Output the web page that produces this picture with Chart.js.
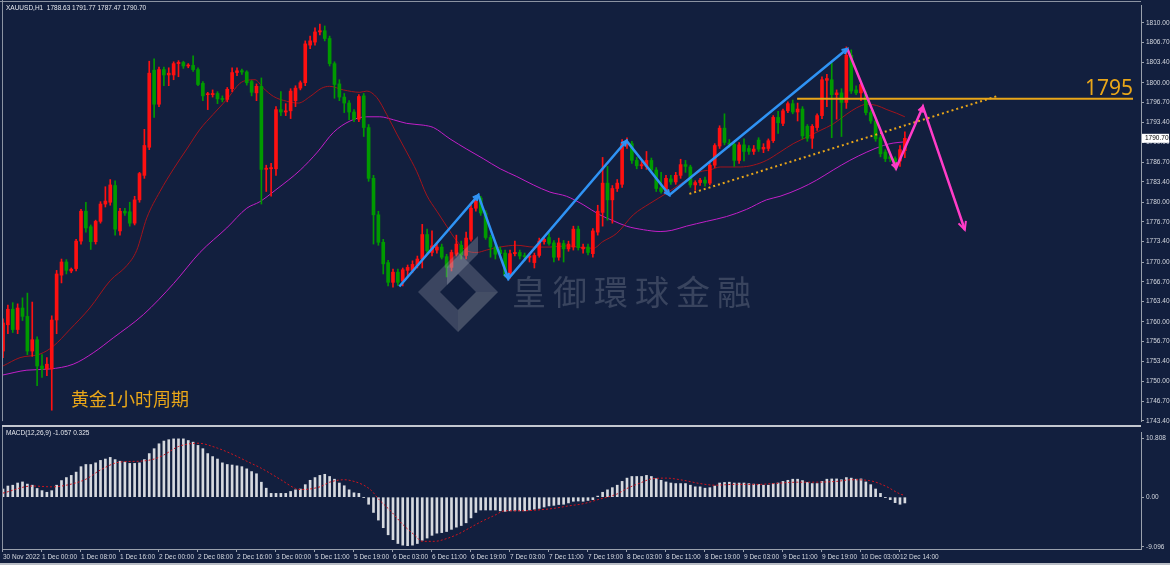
<!DOCTYPE html>
<html>
<head>
<meta charset="utf-8">
<script src="https://cdn.jsdelivr.net/npm/chart.js@4.4.0/dist/chart.umd.min.js"></script>
<style>
html, body { margin: 0; padding: 0; background: #121f3e; }
#wrap { position: relative; width: 1170px; height: 565px; overflow: hidden; background: #121f3e; }
#main { position: absolute; left: 0; top: 0; }
#macd { position: absolute; left: 0; top: 427px; }
</style>
</head>
<body>
<div id="wrap">
  <canvas id="main" width="1170" height="427"></canvas>
  <canvas id="macd" width="1170" height="138"></canvas>
</div>
<script>
// XAUUSD H1 candles (bar 0 = 30 Nov 16:00)
const opens = [
  1755.1,1759.5,1762.1,1758.7,1762.3,1760.9,1755.1,1757.0,1752.6,1752.1,
  1752.1,1760.3,1767.8,1770.0,1768.5,1768.9,1773.5,1778.5,1775.9,1773.4,
  1776.8,1779.7,1780.0,1782.8,1775.2,1778.5,1778.4,1776.5,1780.4,1784.5,
  1789.2,1802.1,1796.4,1802.2,1801.3,1801.3,1803.2,1803.4,1802.8,1802.9,
  1802.2,1799.9,1798.0,1798.0,1798.2,1797.3,1797.2,1799.0,1801.7,1802.0,
  1801.8,1800.2,1798.3,1799.4,1785.5,1785.6,1785.6,1795.5,1795.1,1795.3,
  1797.0,1799.1,1800.0,1806.3,1806.8,1808.5,1808.7,1807.4,1803.2,1799.8,
  1797.6,1796.6,1795.1,1793.9,1797.8,1792.5,1784.0,1777.9,1773.3,1769.9,
  1766.6,1768.3,1766.8,1768.6,1768.6,1769.4,1770.5,1774.6,1771.6,1772.0,
  1772.5,1770.9,1769.1,1771.3,1772.8,1771.1,1773.8,1779.0,1780.7,1778.2,
  1774.1,1772.5,1772.0,1771.5,1767.8,1771.4,1771.6,1771.0,1770.8,1769.9,
  1771.1,1773.4,1774.1,1773.2,1770.8,1773.1,1772.2,1772.5,1775.5,1772.2,
  1772.5,1771.4,1775.0,1778.3,1783.2,1780.4,1782.3,1783.0,1789.6,1789.8,
  1787.0,1786.1,1786.0,1787.0,1785.4,1782.4,1781.8,1783.9,1783.4,1784.5,
  1786.3,1785.9,1782.9,1783.3,1783.7,1783.2,1786.2,1789.4,1792.4,1789.9,
  1789.7,1787.0,1789.6,1789.0,1788.5,1790.4,1788.9,1789.0,1790.3,1794.2,
  1793.2,1795.3,1796.5,1795.1,1795.6,1792.7,1790.7,1792.5,1794.5,1800.4,
  1800.5,1798.0,1798.3,1796.7,1804.6,1798.8,1798.3,1798.0,1795.0,1793.6,
  1790.8,1788.4,1787.6,1787.3,1786.9,1788.63
];
const highs = [
  1760.5,1762.8,1763.2,1763.0,1764.0,1764.8,1763.3,1757.5,1754.5,1754.0,
  1761.0,1768.6,1770.5,1770.4,1769.0,1773.8,1778.8,1780.0,1776.2,1777.0,
  1780.1,1782.6,1783.8,1783.6,1779.0,1779.0,1780.0,1781.0,1785.0,1792.2,
  1803.6,1804.0,1802.6,1802.6,1802.5,1803.5,1803.7,1803.6,1803.2,1804.5,
  1802.5,1800.2,1798.4,1798.8,1798.5,1797.8,1799.2,1802.5,1802.5,1802.3,
  1802.0,1800.4,1799.8,1800.8,1786.2,1786.5,1796.0,1798.5,1796.5,1799.0,
  1799.5,1800.3,1807.0,1807.8,1809.2,1809.8,1809.5,1807.8,1803.5,1800.5,
  1798.2,1797.0,1795.5,1798.0,1798.2,1793.0,1784.5,1778.5,1773.8,1770.3,
  1768.8,1768.8,1769.0,1769.5,1770.2,1771.0,1776.3,1775.5,1775.2,1773.0,
  1773.0,1771.3,1772.0,1774.5,1773.5,1775.0,1779.5,1781.1,1781.0,1778.6,
  1774.5,1773.0,1772.5,1772.0,1772.0,1773.5,1772.0,1771.5,1771.5,1771.5,
  1774.0,1774.2,1774.8,1773.6,1774.0,1773.6,1773.5,1776.0,1776.0,1773.0,
  1773.0,1775.6,1779.5,1787.5,1786.0,1782.8,1783.8,1790.5,1790.8,1790.2,
  1787.5,1786.8,1788.5,1787.4,1785.8,1785.0,1784.5,1784.5,1785.0,1787.2,
  1787.0,1786.2,1783.6,1784.0,1784.2,1786.5,1789.8,1792.8,1794.8,1790.5,
  1790.2,1790.0,1790.6,1789.5,1789.5,1790.8,1789.8,1790.6,1794.5,1795.2,
  1795.6,1796.8,1797.1,1796.6,1796.0,1793.0,1793.0,1794.8,1801.0,1801.4,
  1803.3,1798.8,1799.0,1806.0,1805.5,1799.5,1800.0,1798.5,1795.4,1794.0,
  1791.2,1788.8,1788.0,1787.6,1789.5,1791.77
];
const lows = [
  1754.0,1758.0,1758.2,1758.0,1760.2,1754.5,1754.2,1749.3,1750.7,1751.0,
  1745.2,1758.0,1766.5,1768.0,1768.2,1768.5,1773.0,1775.0,1772.1,1773.0,
  1776.5,1779.2,1779.5,1774.5,1774.5,1777.8,1776.0,1776.2,1780.0,1784.0,
  1788.8,1794.2,1796.0,1799.5,1799.5,1800.5,1801.0,1802.4,1802.5,1801.9,
  1799.5,1797.0,1795.5,1797.6,1796.5,1796.8,1796.8,1798.5,1801.2,1801.4,
  1799.6,1797.8,1797.0,1779.7,1781.8,1781.0,1784.5,1794.5,1794.5,1794.0,
  1796.0,1798.8,1799.5,1805.7,1806.3,1808.0,1807.0,1802.8,1797.4,1797.0,
  1795.0,1793.8,1793.5,1793.5,1791.0,1783.5,1773.0,1772.8,1768.0,1766.0,
  1765.8,1766.1,1766.0,1767.5,1768.2,1769.0,1769.0,1771.5,1771.0,1771.5,
  1770.5,1767.5,1768.5,1771.0,1770.5,1770.5,1773.5,1778.5,1777.8,1773.8,
  1770.8,1770.5,1770.8,1767.5,1767.3,1771.0,1770.5,1770.2,1770.0,1769.0,
  1770.8,1773.0,1772.8,1770.0,1770.3,1770.0,1771.8,1772.0,1772.0,1771.5,
  1771.2,1770.8,1774.5,1776.0,1777.0,1776.5,1781.8,1782.5,1789.0,1786.5,
  1785.6,1785.6,1785.5,1785.0,1781.8,1781.5,1781.5,1783.0,1783.0,1784.0,
  1785.0,1782.5,1782.0,1782.8,1782.7,1782.9,1785.8,1789.0,1789.6,1789.2,
  1786.0,1786.5,1786.9,1788.0,1788.0,1788.5,1788.3,1788.6,1790.0,1791.5,
  1792.8,1795.0,1794.8,1793.6,1790.6,1790.2,1789.0,1792.0,1794.0,1796.0,
  1790.8,1793.9,1791.0,1795.7,1798.2,1798.0,1797.0,1794.6,1793.2,1790.2,
  1787.6,1786.8,1786.8,1785.5,1786.0,1787.47
];
const closes = [
  1759.8,1762.1,1758.7,1762.3,1760.9,1755.1,1757.0,1752.6,1752.1,1752.9,
  1760.3,1768.0,1770.0,1768.6,1768.8,1773.5,1778.5,1775.7,1773.4,1776.8,
  1779.7,1780.2,1782.9,1775.5,1778.5,1778.2,1776.5,1780.4,1784.8,1789.5,
  1801.6,1796.4,1802.2,1801.3,1801.6,1803.2,1803.4,1802.8,1802.9,1802.2,
  1799.7,1797.8,1798.1,1798.2,1797.3,1797.2,1798.9,1801.7,1802.0,1801.8,
  1800.0,1798.4,1799.4,1785.5,1785.7,1785.8,1795.5,1795.1,1795.3,1798.6,
  1799.1,1800.0,1806.5,1807.0,1808.5,1808.7,1807.4,1803.2,1799.7,1797.6,
  1796.6,1795.1,1793.9,1797.7,1792.5,1784.0,1777.9,1773.3,1769.7,1766.6,
  1768.3,1766.6,1768.7,1769.1,1769.6,1770.5,1774.6,1771.9,1772.7,1772.5,
  1770.8,1769.1,1771.6,1773.0,1771.2,1774.0,1779.0,1780.7,1778.2,1774.1,
  1772.5,1771.3,1771.4,1767.8,1771.4,1771.6,1771.0,1770.9,1771.0,1771.1,
  1773.5,1773.8,1773.1,1770.8,1773.2,1772.2,1773.0,1775.5,1772.4,1772.5,
  1771.6,1775.2,1778.5,1783.2,1780.4,1782.3,1783.2,1789.8,1790.0,1787.0,
  1786.1,1786.3,1787.0,1785.4,1782.3,1781.8,1784.0,1783.4,1784.5,1786.3,
  1786.0,1782.9,1783.3,1783.7,1783.2,1786.2,1789.5,1792.4,1790.0,1789.7,
  1787.0,1789.6,1788.5,1788.5,1788.9,1788.9,1789.2,1790.3,1794.2,1793.3,
  1795.3,1796.5,1795.1,1795.6,1791.1,1790.7,1792.7,1794.5,1800.5,1800.7,
  1798.0,1798.3,1796.7,1804.6,1798.6,1798.3,1799.7,1795.0,1793.6,1790.6,
  1788.1,1787.3,1787.3,1786.2,1788.8,1790.70
];

// moving averages, read at sample points [bar, price]
const maRed = [
  [0,1752.6],[3.5,1754.0],[7.6,1754.6],[10.3,1755.9],[13.7,1758.7],[17.8,1762.3],[22,1766.9],
  [25.4,1769.4],[27.4,1771.9],[29.5,1777.4],[32.2,1781.8],[35,1785.6],[37.7,1788.9],[40.4,1792.2],
  [43.1,1794.7],[45.9,1797.2],[48.6,1799.9],[50,1800.4],[51.7,1800.5],[53.4,1799.1],[55.5,1797.7],
  [58.2,1796.9],[60.6,1796.6],[63,1797.7],[65.4,1799.1],[67,1799.4],[69.8,1798.8],[73.2,1798.4],
  [74.6,1798.6],[76.7,1797.5],[78.7,1794.7],[80.8,1791.4],[82.8,1788.4],[84.9,1785.1],[86.9,1781.2],
  [89,1778.5],[91,1776.0],[93,1773.6],[95.1,1771.9],[97.2,1771.6],[99.2,1772.0],[101.9,1772.5],
  [105.4,1772.8],[108.8,1772.5],[112.2,1772.5],[115.6,1772.7],[119,1772.4],[121.1,1772.3],
  [123,1773.4],[125.9,1774.8],[129.3,1777.9],[132.7,1779.8],[136.1,1781.5],[139.6,1783.4],
  [143,1785.1],[145,1785.4],[147.1,1785.9],[151.2,1785.9],[153.9,1786.2],[156.6,1787.0],
  [159.4,1788.4],[162.1,1789.8],[164.9,1790.9],[167.6,1792.0],[170.3,1793.1],[173,1794.7],
  [175.1,1795.8],[177.2,1796.4],[179.2,1796.2],[181.3,1795.5],[183.3,1794.9],[185,1794.3]
];
const maMagenta = [
  [0,1751.1],[4.9,1751.9],[9.6,1752.1],[14.4,1752.9],[18.5,1754.8],[22.6,1757.3],[28.8,1761.2],
  [35,1766.4],[40.4,1771.6],[45.9,1775.7],[50,1779.0],[52.7,1780.1],[56,1782.1],[61,1785.4],
  [64.5,1788.4],[67.8,1791.7],[71.2,1793.6],[74.6,1794.3],[77.3,1794.3],[80.1,1793.8],[82.8,1793.2],
  [86.2,1792.9],[88.3,1792.5],[91.7,1790.6],[95.1,1788.9],[98.5,1787.3],[102,1785.6],[105.4,1784.3],
  [108.8,1782.9],[112.2,1781.7],[115.6,1781.0],[119,1779.6],[122.4,1777.9],[125.2,1776.9],
  [127.9,1776.0],[131.4,1775.4],[134.8,1775.1],[137.2,1775.3],[140.2,1776.0],[144.3,1776.8],
  [148.4,1777.6],[152.5,1778.8],[156.6,1780.4],[159.4,1781.0],[163.5,1782.3],[166.9,1783.7],
  [170.3,1785.4],[173.7,1787.0],[177.2,1788.4],[180.6,1789.5],[182.6,1789.9],[185,1790.1]
];

// hand-drawn analysis lines [bar, price]
const zigBlue = [[81.3,1765.9],[97.5,1781.2],[103.65,1767.2],[127.9,1790.3],[136.7,1781.2],[173.2,1805.7]];
const zigPink = [[173.2,1805.7],[183.2,1785.7],[188.7,1796.0],[197.3,1775.4]];
const level1795 = [[162.9,1797.3],[231.8,1797.3]];
const trendDotted = [[140.8,1781.4],[204.1,1797.8]];

// MACD(12,26,9)
const macdHist = [
  1.5,2.05,2.2,2.6,2.8,2.4,2.2,1.6,1.2,0.9,
  1.2,2.2,3.05,3.6,4.0,4.6,5.6,6.0,6.0,6.3,
  6.75,7.0,7.3,6.9,6.6,6.45,6.2,6.2,6.3,6.9,
  8.0,8.9,9.8,10.3,10.55,10.7,10.7,10.7,10.4,10.1,
  9.5,8.9,8.0,7.45,7.0,6.3,6.0,5.9,5.75,5.6,
  5.2,4.7,4.3,2.75,1.65,0.7,0.7,0.7,0.7,1.05,
  1.35,1.5,2.3,3.1,3.6,4.0,4.2,3.8,3.3,2.6,
  2.1,1.35,0.8,0.7,-0.05,-1.3,-2.8,-4.2,-5.6,-6.9,
  -7.8,-8.5,-8.8,-8.9,-8.8,-8.5,-7.9,-7.5,-7.0,-6.6,
  -6.5,-6.3,-5.9,-5.5,-5.2,-4.7,-3.8,-2.8,-2.35,-2.35,
  -2.35,-2.35,-2.5,-2.6,-2.5,-2.5,-2.5,-2.5,-2.35,-2.2,
  -2.05,-1.8,-1.6,-1.5,-1.35,-1.3,-1.05,-0.75,-0.7,-0.75,
  -0.6,-0.45,0.2,0.9,1.35,1.75,2.2,2.9,3.5,3.8,
  3.8,3.8,4.0,3.8,3.4,3.1,2.8,2.6,2.5,2.5,
  2.5,2.2,1.9,1.9,1.65,1.75,2.05,2.6,2.7,2.75,
  2.6,2.6,2.6,2.5,2.4,2.35,2.2,2.2,2.5,2.6,
  2.9,3.1,3.3,3.3,3.05,2.7,2.5,2.5,2.9,3.3,
  3.35,3.35,3.2,3.6,3.5,3.3,3.35,2.8,2.3,1.5,
  0.7,-0.05,-0.45,-1.0,-1.3,-1.057
];
const macdSignal = [
  [0,0.75],[6,2.05],[10,1.9],[13,2.2],[17,3.3],[20,5.0],[24,6.45],[28,6.6],[31,7.0],[33,7.75],
  [36,9.3],[40,9.9],[44,9.0],[47,7.9],[50,6.6],[53,5.3],[57,3.2],[60,1.6],[61,1.4],[65,1.9],
  [67,2.75],[70,3.2],[72,2.9],[74,2.2],[75.6,1.2],[77,-0.3],[79.6,-2.6],[82,-5.0],[84.5,-7.0],
  [86,-8.1],[88.5,-8.1],[91,-7.6],[93.4,-6.75],[95.8,-5.6],[98.3,-4.4],[100.7,-3.4],[103,-2.5],
  [106.4,-2.5],[109.6,-2.35],[113,-2.05],[116,-1.6],[119,-1.2],[122.6,-0.3],[126,0.6],[128,1.6],
  [130.7,2.6],[133,3.35],[136,3.5],[139.6,3.1],[143,2.5],[146,2.2],[150,2.35],[155,2.35],
  [158,2.5],[163,2.75],[166,2.75],[171,2.9],[174,3.2],[177.7,3.05],[181,2.05],[184,0.6],[185,0.325]
];

const priceTicks = [1810.00,1806.70,1803.40,1800.00,1796.70,1793.40,1790.00,1786.70,1783.40,1780.00,
  1776.70,1773.40,1770.00,1766.70,1763.40,1760.00,1756.70,1753.40,1750.00,1746.70,1743.40];
const macdTicks = [10.808, 0, -9.096];
const timeTickIdx = [0,8,16,24,32,40,48,56,64,72,80,88,96,104,112,120,128,136,144,152,160,168,176,184];
const timeTickLabels = ['30 Nov 2022','1 Dec 00:00','1 Dec 08:00','1 Dec 16:00','2 Dec 00:00','2 Dec 08:00',
  '2 Dec 16:00','3 Dec 00:00','5 Dec 11:00','5 Dec 19:00','6 Dec 03:00','6 Dec 11:00','6 Dec 19:00',
  '7 Dec 03:00','7 Dec 11:00','7 Dec 19:00','8 Dec 03:00','8 Dec 11:00','8 Dec 19:00','9 Dec 03:00',
  '9 Dec 11:00','9 Dec 19:00','10 Dec 03:00','12 Dec 14:00'];

Chart.defaults.font.family = "'Liberation Sans', 'DejaVu Sans', sans-serif";
Chart.defaults.color = '#d4d8e0';

const BULL = '#ff1010', BEAR = '#009a00';
const AXIS = '#9aa1ad';
const ORANGE = '#e9a619';
const candleColors = closes.map((c, i) => c >= opens[i] ? BULL : BEAR);
const pts = a => a.map(p => ({x: p[0], y: p[1]}));

// x mapping shared by both panes: bar i sits at 3 + 4.875 * i px
const X_MIN = -0.205, X_MAX = 233.44;

function arrowHead(ctx, x0, y0, x1, y1, size, color) {
  const a = Math.atan2(y1 - y0, x1 - x0);
  ctx.save();
  ctx.strokeStyle = color;
  ctx.lineWidth = 2;
  ctx.beginPath();
  ctx.moveTo(x1 - size * Math.cos(a - 0.45), y1 - size * Math.sin(a - 0.45));
  ctx.lineTo(x1, y1);
  ctx.lineTo(x1 - size * Math.cos(a + 0.45), y1 - size * Math.sin(a + 0.45));
  ctx.stroke();
  ctx.restore();
}

const mainOverlay = {
  id: 'mainOverlay',
  afterDatasetsDraw(chart) {
    const ctx = chart.ctx, xs = chart.scales.x, ys = chart.scales.y;
    // arrow heads on the zigzags
    const heads = (arr, color, lastSize) => {
      for (let i = 1; i < arr.length; i++) {
        const x0 = xs.getPixelForValue(arr[i-1][0]), y0 = ys.getPixelForValue(arr[i-1][1]);
        const x1 = xs.getPixelForValue(arr[i][0]), y1 = ys.getPixelForValue(arr[i][1]);
        arrowHead(ctx, x0, y0, x1, y1, i === arr.length - 1 ? lastSize : 6, color);
      }
    };
    heads(zigBlue, '#2f93f5', 6);
    heads(zigPink, '#ff3cc8', 9);

    // watermark logo + name
    ctx.save();
    ctx.globalAlpha = 0.3;
    ctx.fillStyle = '#9aa0b0';
    ctx.beginPath();
    ctx.moveTo(418, 292); ctx.lineTo(458, 252); ctx.lineTo(498, 292); ctx.lineTo(458, 332); ctx.closePath();
    ctx.moveTo(440, 292); ctx.lineTo(458, 310); ctx.lineTo(476, 292); ctx.lineTo(458, 274); ctx.closePath();
    ctx.fill('evenodd');
    ctx.fillStyle = '#5c6272';
    ctx.beginPath();
    ctx.moveTo(458, 332); ctx.lineTo(498, 292); ctx.lineTo(476, 292); ctx.lineTo(458, 310); ctx.closePath();
    ctx.fill();
    ctx.fillStyle = '#b0b4c0';
    ctx.beginPath();
    ctx.moveTo(447, 285); ctx.lineTo(478, 254); ctx.lineTo(478, 236); ctx.lineTo(447, 267); ctx.closePath();
    ctx.fill();
    ctx.globalAlpha = 0.38;
    ctx.fillStyle = '#7a8092';
    ctx.font = "34px 'Noto Sans CJK TC'";
    ctx.textBaseline = 'middle';
    ctx.textAlign = 'left';
    '皇御環球金融'.split('').forEach((ch, i) => ctx.fillText(ch, 512 + i * 41, 292));
    ctx.restore();
  },
  afterDraw(chart) {
    const ctx = chart.ctx, ys = chart.scales.y, area = chart.chartArea;
    ctx.save();
    // frame lines
    ctx.fillStyle = '#8b93a2';
    ctx.fillRect(0, 1, area.right, 1);
    ctx.fillRect(2, 0, 1, area.bottom);
    ctx.fillStyle = '#c3c7cf';
    ctx.fillRect(2, 425, area.right - 2, 2);

    // header
    ctx.fillStyle = '#e6e8ee';
    ctx.font = "6.5px 'Liberation Sans'";
    ctx.textBaseline = 'middle';
    ctx.fillText('XAUUSD,H1  1788.63 1791.77 1787.47 1790.70', 6, 8);

    // captions
    ctx.fillStyle = ORANGE;
    ctx.font = "18px 'Noto Sans CJK SC'";
    ctx.fillText('黄金1小时周期', 71, 399);
    ctx.font = "21px 'Noto Sans', 'Liberation Sans'";
    ctx.textBaseline = 'alphabetic';
    ctx.fillText('1795', 1085, 95);

    // current price box
    const last = closes[closes.length - 1];
    const py = ys.getPixelForValue(last);
    ctx.fillStyle = '#ffffff';
    ctx.fillRect(area.right + 1, py - 4.5, 27, 9);
    ctx.fillStyle = '#000000';
    ctx.font = "6.5px 'Liberation Sans'";
    ctx.textBaseline = 'middle';
    ctx.fillText(last.toFixed(2), area.right + 4, py);
    ctx.restore();
  }
};

new Chart(document.getElementById('main'), {
  type: 'bar',
  data: {
    datasets: [
      {
        type: 'line', data: pts(maMagenta), borderColor: '#c21fc8', borderWidth: 1,
        pointRadius: 0, cubicInterpolationMode: 'monotone', order: 5
      },
      {
        type: 'line', data: pts(maRed), borderColor: '#a3141c', borderWidth: 1,
        pointRadius: 0, cubicInterpolationMode: 'monotone', order: 4
      },
      {
        data: closes.map((c, i) => ({x: i, y: [lows[i], highs[i]]})),
        backgroundColor: candleColors, barThickness: 1, grouped: false, order: 3
      },
      {
        data: closes.map((c, i) => ({x: i, y: [opens[i], c]})),
        backgroundColor: candleColors, barThickness: 3, minBarLength: 1, grouped: false, order: 2
      },
      {
        type: 'line', data: pts(trendDotted), borderColor: ORANGE, borderWidth: 2,
        borderDash: [2, 3], pointRadius: 0, order: 1
      },
      {
        type: 'line', data: pts(level1795), borderColor: ORANGE, borderWidth: 2, pointRadius: 0, order: 1
      },
      {
        type: 'line', data: pts(zigBlue), borderColor: '#2f93f5', borderWidth: 2.5, pointRadius: 0, order: 0
      },
      {
        type: 'line', data: pts(zigPink), borderColor: '#ff3cc8', borderWidth: 2.5, pointRadius: 0, order: 0
      }
    ]
  },
  options: {
    responsive: false,
    devicePixelRatio: 1,
    animation: false,
    events: [],
    layout: { padding: { left: 2, top: 5, right: 0, bottom: 1 }, autoPadding: false },
    plugins: { legend: { display: false }, tooltip: { enabled: false } },
    scales: {
      x: { type: 'linear', min: X_MIN, max: X_MAX, offset: false, display: false },
      y: {
        position: 'right',
        min: 1743.38, max: 1812.855,
        afterBuildTicks: s => { s.ticks = priceTicks.map(v => ({value: v})); },
        afterFit: s => { s.width = 29; },
        ticks: {
          padding: 2,
          font: { size: 6.5 },
          color: '#d4d8e0',
          callback: v => Number(v).toFixed(2)
        },
        grid: { drawOnChartArea: false, drawTicks: true, tickLength: 3, color: AXIS },
        border: { display: true, color: AXIS }
      }
    }
  },
  plugins: [mainOverlay]
});

const macdOverlay = {
  id: 'macdOverlay',
  afterDraw(chart) {
    const ctx = chart.ctx, area = chart.chartArea;
    ctx.save();
    ctx.fillStyle = '#8b93a2';
    ctx.fillRect(2, 0, 1, area.bottom);
    ctx.fillStyle = '#b9bdc5';
    ctx.fillRect(0, 136, 1170, 2);
    ctx.fillStyle = '#e6e8ee';
    ctx.font = "6.5px 'Liberation Sans'";
    ctx.textBaseline = 'middle';
    ctx.fillText('MACD(12,26,9) -1.057 0.325', 6, 6);
    ctx.restore();
  }
};

new Chart(document.getElementById('macd'), {
  type: 'bar',
  data: {
    datasets: [
      {
        type: 'line', data: pts(macdSignal), borderColor: '#d0141e', borderWidth: 1,
        borderDash: [2, 2], pointRadius: 0, cubicInterpolationMode: 'monotone', order: 0
      },
      {
        data: macdHist.map((v, i) => ({x: i, y: v})),
        backgroundColor: '#d6d9df', barThickness: 2, order: 1
      }
    ]
  },
  options: {
    responsive: false,
    devicePixelRatio: 1,
    animation: false,
    events: [],
    layout: { padding: { left: 2, top: 1, right: 0, bottom: 2 }, autoPadding: false },
    plugins: { legend: { display: false }, tooltip: { enabled: false } },
    scales: {
      x: {
        type: 'linear', min: X_MIN, max: X_MAX, offset: false,
        afterBuildTicks: s => { s.ticks = timeTickIdx.map(v => ({value: v})); },
        afterFit: s => { s.height = 14; },
        ticks: {
          autoSkip: false, maxRotation: 0, minRotation: 0, align: 'start', padding: 1,
          font: { size: 6.5 }, color: '#d4d8e0',
          callback: (v, i) => timeTickLabels[i]
        },
        grid: { offset: false, drawOnChartArea: false, drawTicks: true, tickLength: 3, color: AXIS },
        border: { display: true, color: AXIS }
      },
      y: {
        position: 'right',
        min: -9.507, max: 11.796,
        afterBuildTicks: s => { s.ticks = macdTicks.map(v => ({value: v})); },
        afterFit: s => { s.width = 29; },
        ticks: {
          padding: 2, font: { size: 6.5 }, color: '#d4d8e0',
          callback: v => v === 0 ? '0.00' : String(v)
        },
        grid: { drawOnChartArea: false, drawTicks: true, tickLength: 3, color: AXIS },
        border: { display: true, color: AXIS }
      }
    }
  },
  plugins: [macdOverlay]
});
</script>
</body>
</html>
